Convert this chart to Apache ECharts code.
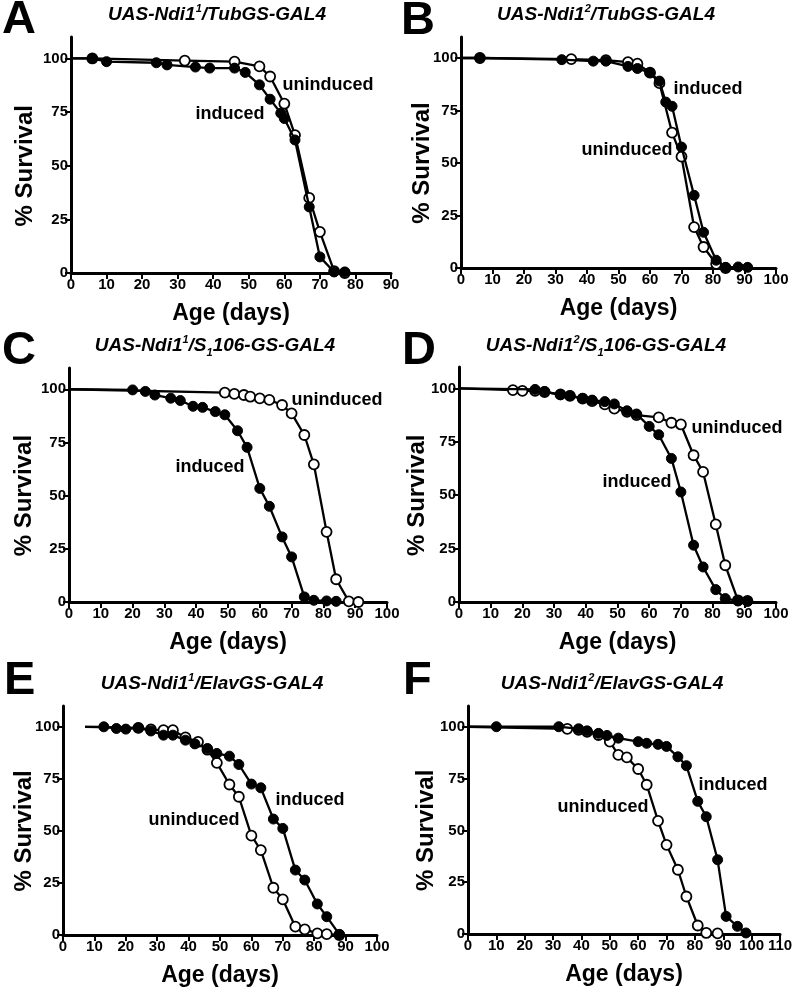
<!DOCTYPE html>
<html><head><meta charset="utf-8">
<script src="https://cdn.jsdelivr.net/npm/echarts@6/dist/echarts.min.js"></script>
<style>html,body{margin:0;padding:0;background:#fff}#c{width:800px;height:995px}</style>
</head><body><div id="c"></div>
<script>
// ---- data (day, % survival) ----
const A_ind_x = [0,6,10,24,27,35,39,46,49,53,56,59,60,63,67,70,74,77];
const A_ind_y = [100,100,98.5,98,97,96,95.5,95.5,93.5,87.7,81,74.5,72,62,30.8,7.5,0.5,0.5];
const A_un_x  = [0,6,32,46,53,56,60,63,67,70,74,77];
const A_un_y  = [100,100,99,98.5,96.3,91.6,78.9,64.3,35,19.2,0.9,0];

const B_ind_x = [0,6,32,42,46,53,56,60,63,65,67,70,74,77,81,84,88,91];
const B_ind_y = [100,100,99.2,98.5,98.5,96,95,93,89,79,77,57.6,34.6,17,3.7,0.3,0.5,0.3];
const B_un_x  = [0,6,35,46,53,56,60,63,67,70,74,77,81,84];
const B_un_y  = [100,100,99.5,99,98,97.3,93,88,64.5,53,19.5,10,2,0];

const C_ind_x = [0,20,24,27,32,35,39,42,46,49,53,56,60,63,67,70,74,77,81,84];
const C_ind_y = [100,99.7,99,97.3,95.8,94.7,92,91.5,89.5,88,80.5,72.7,53.4,45,30.6,21.2,2.4,0.8,0.5,0.3];
const C_un_x  = [0,49,52,55,57,60,63,67,70,74,77,81,84,88,91];
const C_un_y  = [100,98.4,97.8,97.3,96.5,95.7,95,92.6,88.7,78.5,64.7,33,10.7,0.3,0];

const D_ind_x = [0,24,27,32,35,39,42,46,49,53,56,60,63,67,70,74,77,81,84,88,91];
const D_ind_y = [100,99.5,98.5,97,96.6,95.3,94.5,93.8,92.7,89.5,88,82.2,78.3,67.2,51.5,26.6,16.4,5.8,1.6,0.5,0.3];
const D_un_x  = [0,17,20,24,27,32,35,39,42,46,49,53,56,63,67,70,74,77,81,84,88,91];
const D_un_y  = [100,99.2,98.8,98.8,98.3,97.2,96.5,95.2,94,92.5,90.5,89,87.5,86.4,83.9,83.1,68.7,60.9,36.3,17.2,0.8,0.5];

const E_ind_x = [7,13,17,20,24,28,32,35,39,42,46,49,53,56,60,63,67,70,74,77,81,84,88];
const E_ind_y = [100,100,99.2,98.9,99.5,98,96,96,93.6,91.8,89.6,87.2,85.9,81.9,72.5,70.7,55.7,51.2,31.2,26.4,14.9,8.8,0.3];
const E_un_x  = [7,24,28,32,35,39,43,46,49,53,56,60,63,67,70,74,77,81,84,88];
const E_un_y  = [100,99.5,98.7,98.4,98.4,94.9,92.8,89,82.7,72.3,66.4,47.7,40.8,22.7,17.1,4,2.7,0.8,0.4,0];

const F_ind_x = [0,10,32,39,42,46,49,53,60,63,67,70,74,77,81,84,88,91,95,98];
const F_ind_y = [100,100,100,99,98,96.8,95.8,94.5,92.8,92,91.5,90.5,85.5,81.2,64,56.6,35.8,8.5,3.7,0.5];
const F_un_x  = [0,35,39,42,46,50,53,56,60,63,67,70,74,77,81,84,88];
const F_un_y  = [100,99,98.5,97.5,96,92.8,86.4,85.2,79.6,72,54.6,43,31,18.1,4.1,0.5,0.3];

const yTicks = [0,25,50,75,100];
const xMax = {A:90,B:100,C:100,D:100,E:100,F:110};
const titles = {
  A:'UAS-Ndi1{sup|1}/TubGS-GAL4',
  B:'UAS-Ndi1{sup|2}/TubGS-GAL4',
  C:'UAS-Ndi1{sup|1}/S{sub|1}106-GS-GAL4',
  D:'UAS-Ndi1{sup|2}/S{sub|1}106-GS-GAL4',
  E:'UAS-Ndi1{sup|1}/ElavGS-GAL4',
  F:'UAS-Ndi1{sup|2}/ElavGS-GAL4'
};
const seriesData = {
  A:[[A_ind_x,A_ind_y],[A_un_x,A_un_y]],
  B:[[B_ind_x,B_ind_y],[B_un_x,B_un_y]],
  C:[[C_ind_x,C_ind_y],[C_un_x,C_un_y]],
  D:[[D_ind_x,D_ind_y],[D_un_x,D_un_y]],
  E:[[E_ind_x,E_ind_y],[E_un_x,E_un_y]],
  F:[[F_ind_x,F_ind_y],[F_un_x,F_un_y]]
};

// ---- layout ----
const FONT = 'Liberation Sans, Arial, sans-serif';
const panels = ['A','B','C','D','E','F'];
const grids = {
  A:{left:71, top:37, width:320, height:236},
  B:{left:461, top:37, width:315, height:231},
  C:{left:69, top:368, width:318, height:234},
  D:{left:459, top:367, width:317, height:235},
  E:{left:63, top:706, width:314, height:229},
  F:{left:468, top:706, width:312, height:228}
};
const letterPos = {A:[2,-3],B:[401,-2],C:[2,328],D:[402,328],E:[4,658],F:[403,658]};
const titleY = {A:15,B:15,C:346,D:346,E:684,F:684};
const titleX = {A:217,B:606,C:215,D:606,E:212,F:612};
const yNameX = {A:25,B:422,C:24,D:417,E:24,F:426};
const annot = {
  A:[['uninduced',328,85],['induced',230,114]],
  B:[['induced',708,89],['uninduced',627,150]],
  C:[['uninduced',337,400],['induced',210,467]],
  D:[['uninduced',737,428],['induced',637,482]],
  E:[['induced',310,800],['uninduced',194,820]],
  F:[['induced',733,785],['uninduced',603,807]]
};

const option = {animation:false, backgroundColor:'#fff', grid:[], xAxis:[], yAxis:[], series:[], graphic:[]};
panels.forEach((p,i)=>{
  const g = grids[p];
  option.grid.push({left:g.left, top:g.top, width:g.width, height:g.height, containLabel:false});
  option.xAxis.push({
    type:'value', gridIndex:i, min:0, max:xMax[p], interval:10,
    splitLine:{show:false},
    axisLine:{show:true, onZero:false, lineStyle:{color:'#000', width:3}},
    axisTick:{show:true, length:6, lineStyle:{color:'#000', width:2}},
    axisLabel:{color:'#000', fontFamily:FONT, fontWeight:'bold', fontSize:15, margin:4, showMinLabel:true, showMaxLabel:true},
    name:'Age (days)', nameLocation:'middle', nameGap:29,
    nameTextStyle:{color:'#000', fontFamily:FONT, fontWeight:'bold', fontSize:23}
  });
  option.yAxis.push({
    type:'value', gridIndex:i, min:0, max:110,
    splitLine:{show:false},
    axisLine:{show:true, onZero:false, lineStyle:{color:'#000', width:3}},
    axisTick:{show:true, length:6, lineStyle:{color:'#000', width:2}, customValues:yTicks},
    axisLabel:{color:'#000', fontFamily:FONT, fontWeight:'bold', fontSize:15, margin:3, customValues:yTicks}
  });
  const [ind, un] = seriesData[p];
  const mk = (xy)=>xy[0].map((x,k)=>[x, xy[1][k]]);
  const firstHidden = (arr)=> (v)=> (v[0] === arr[0][0] && arr[0][0] !== 6) ? 'none' : 'circle';
  option.series.push({
    type:'line', xAxisIndex:i, yAxisIndex:i, data:mk(un), name:'uninduced',
    symbol:firstHidden(un), symbolSize:10, showAllSymbol:true,
    lineStyle:{color:'#000', width:2.3}, itemStyle:{color:'#fff', borderColor:'#000', borderWidth:1.8},
    emphasis:{disabled:true}, silent:true, z:2
  });
  option.series.push({
    type:'line', xAxisIndex:i, yAxisIndex:i, data:mk(ind), name:'induced',
    symbol:firstHidden(ind), symbolSize:10, showAllSymbol:true,
    lineStyle:{color:'#000', width:2.3}, itemStyle:{color:'#000', borderColor:'#000', borderWidth:1},
    emphasis:{disabled:true}, silent:true, z:3
  });
  // panel letter
  option.graphic.push({type:'text', left:letterPos[p][0], top:letterPos[p][1], silent:true,
    style:{text:p, fontFamily:FONT, fontWeight:'bold', fontSize:47, fill:'#000'}});
  // title
  option.graphic.push({type:'text', silent:true, x:titleX[p], y:titleY[p],
    style:{text:titles[p], fill:'#000', fontFamily:FONT, fontWeight:'bold', fontStyle:'italic', fontSize:19,
      lineHeight:24, align:'center', verticalAlign:'middle',
      rich:{
        sup:{fontFamily:FONT, fontWeight:'bold', fontStyle:'italic', fontSize:11, lineHeight:12, verticalAlign:'top', fill:'#000'},
        sub:{fontFamily:FONT, fontWeight:'bold', fontStyle:'italic', fontSize:11, lineHeight:12, verticalAlign:'bottom', fill:'#000'}
      }}});
  // y axis name (centred on the 0-100 range)
  option.graphic.push({type:'text', silent:true, x:yNameX[p], y:g.top + g.height*(110-50)/110, rotation:Math.PI/2,
    style:{text:'% Survival', fill:'#000', fontFamily:FONT, fontWeight:'bold', fontSize:24, align:'center', verticalAlign:'middle'}});
  annot[p].forEach(a=>{
    option.graphic.push({type:'text', silent:true, x:a[1], y:a[2],
      style:{text:a[0], fill:'#000', fontFamily:FONT, fontWeight:'bold', fontSize:18, align:'center', verticalAlign:'middle'}});
  });
});

const chart = echarts.init(document.getElementById('c'), null, {renderer:'canvas'});
chart.setOption(option);
</script></body></html>
